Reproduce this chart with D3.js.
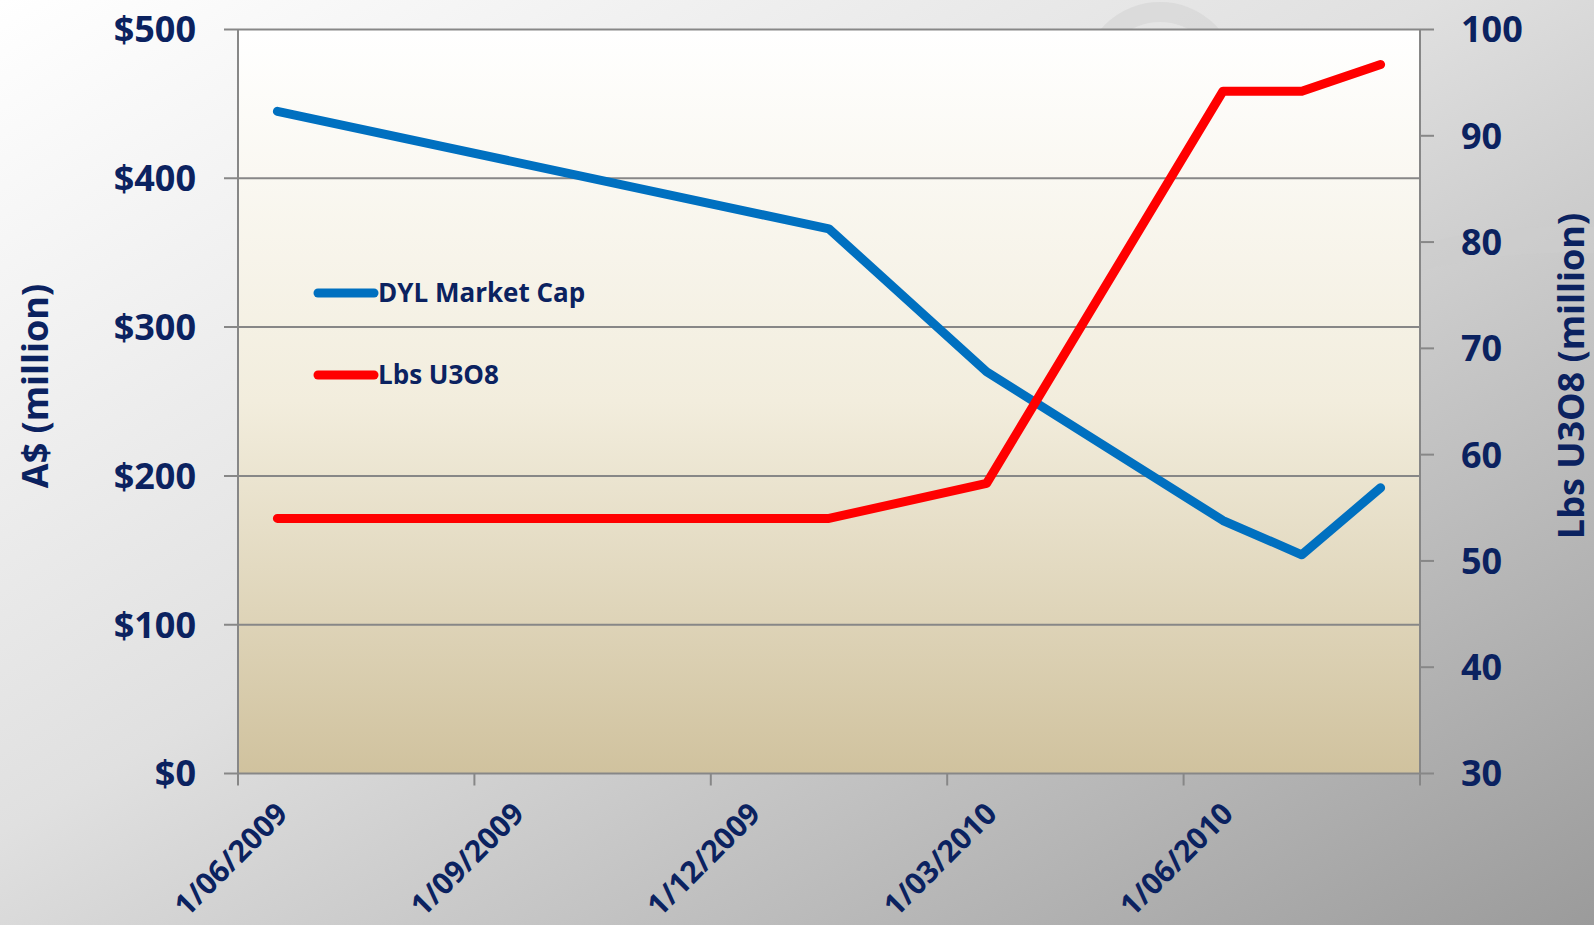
<!DOCTYPE html>
<html>
<head>
<meta charset="utf-8">
<script src="https://cdn.jsdelivr.net/npm/d3@7"></script>
<style>
  html, body { margin: 0; padding: 0; overflow: hidden; }
  svg { display: block; }
  text { font-family: "Open Sans", "Noto Sans", sans-serif; font-weight: 700; fill: #0b2260; }
</style>
</head>
<body>
<svg id="chart" width="1594" height="925"></svg>
<script>
    var dates = ["1/06/2009", "1/01/2010", "1/03/2010", "1/06/2010", "1/07/2010", "1/08/2010"];
    var marketCap = [445, 366, 270, 170, 147, 192];
    var lbsU3O8 = [54, 54, 57.3, 94.2, 94.2, 96.7];
    var tickDates = ["1/06/2009", "1/09/2009", "1/12/2009", "1/03/2010", "1/06/2010"];
    var leftTicks = [0, 100, 200, 300, 400, 500];
    var rightTicks = [30, 40, 50, 60, 70, 80, 90, 100];
    var seriesNames = ["DYL Market Cap", "Lbs U3O8"];
    var seriesColors = ["#0070c0", "#ff0000"];

    var svg = d3.select("#chart"),
      width = +svg.attr("width"),
      height = +svg.attr("height");

    var margin = {left: 238, right: 174, top: 29.5, bottom: 151.5};
    var plotW = width - margin.left - margin.right,
      plotH = height - margin.top - margin.bottom;

    var parse = d3.timeParse("%d/%m/%Y");
    var start = parse("1/06/2009");
    function monthIndex(s) { return d3.timeMonth.count(start, parse(s)); }

    var x = d3.scaleLinear().domain([0, 15]).range([margin.left, margin.left + plotW]);
    var yL = d3.scaleLinear().domain([0, 500]).range([margin.top + plotH, margin.top]);
    var yR = d3.scaleLinear().domain([30, 100]).range([margin.top + plotH, margin.top]);

    var defs = svg.append("defs");
    var bg = defs.append("linearGradient").attr("id", "bg")
      .attr("x1", 0).attr("y1", 0).attr("x2", 1).attr("y2", 1);
    bg.append("stop").attr("offset", "0%").attr("stop-color", "#ffffff");
    bg.append("stop").attr("offset", "45%").attr("stop-color", "#e0e0e0");
    bg.append("stop").attr("offset", "100%").attr("stop-color", "#9b9b9b");

    var plotBg = defs.append("linearGradient").attr("id", "plotbg")
      .attr("x1", 0).attr("y1", 0).attr("x2", 0).attr("y2", 1);
    plotBg.append("stop").attr("offset", "0%").attr("stop-color", "#ffffff");
    plotBg.append("stop").attr("offset", "50%").attr("stop-color", "#f2eddd");
    plotBg.append("stop").attr("offset", "100%").attr("stop-color", "#d0c29e");

    svg.append("rect").attr("width", width).attr("height", height).attr("fill", "url(#bg)");

    // faint watermark arcs
    var wm = svg.append("g").attr("fill", "none").attr("stroke", "#d4d4d4").attr("stroke-opacity", 0.6);
    wm.append("circle").attr("cx", 1160).attr("cy", 80).attr("r", 68).attr("stroke-width", 20);
    wm.append("path")
      .attr("d", "M1400,262 Q1500,236 1594,240")
      .attr("stroke-width", 26)
      .attr("stroke", "#cdcdcd");

    svg.append("rect")
      .attr("x", margin.left).attr("y", margin.top)
      .attr("width", plotW).attr("height", plotH)
      .attr("fill", "url(#plotbg)");

    // gridlines with left ticks
    svg.append("g").selectAll("line")
      .data(leftTicks)
      .enter().append("line")
        .attr("x1", margin.left - 14)
        .attr("x2", margin.left + plotW)
        .attr("y1", function(d) { return yL(d); })
        .attr("y2", function(d) { return yL(d); })
        .attr("stroke", "#878787")
        .attr("stroke-width", 2);

    svg.append("g").selectAll("text")
      .data(leftTicks)
      .enter().append("text")
        .attr("x", 196)
        .attr("y", function(d) { return yL(d); })
        .attr("dy", "0.36em")
        .attr("text-anchor", "end")
        .attr("font-size", 36)
        .text(function(d) { return "$" + d; });

    // right axis
    svg.append("g").selectAll("line")
      .data(rightTicks)
      .enter().append("line")
        .attr("x1", margin.left + plotW)
        .attr("x2", margin.left + plotW + 14)
        .attr("y1", function(d) { return yR(d); })
        .attr("y2", function(d) { return yR(d); })
        .attr("stroke", "#878787")
        .attr("stroke-width", 2);

    svg.append("g").selectAll("text")
      .data(rightTicks)
      .enter().append("text")
        .attr("x", 1461)
        .attr("y", function(d) { return yR(d); })
        .attr("dy", "0.36em")
        .attr("font-size", 36)
        .text(function(d) { return d; });

    // axis lines
    svg.append("line")
      .attr("x1", margin.left).attr("x2", margin.left)
      .attr("y1", margin.top).attr("y2", margin.top + plotH)
      .attr("stroke", "#878787").attr("stroke-width", 2);
    svg.append("line")
      .attr("x1", margin.left + plotW).attr("x2", margin.left + plotW)
      .attr("y1", margin.top).attr("y2", margin.top + plotH)
      .attr("stroke", "#878787").attr("stroke-width", 2);

    // x ticks
    svg.append("g").selectAll("line")
      .data([0, 3, 6, 9, 12, 15])
      .enter().append("line")
        .attr("x1", function(d) { return x(d); })
        .attr("x2", function(d) { return x(d); })
        .attr("y1", margin.top + plotH)
        .attr("y2", margin.top + plotH + 12)
        .attr("stroke", "#878787")
        .attr("stroke-width", 2);

    svg.append("g").selectAll("text")
      .data(tickDates)
      .enter().append("text")
        .attr("font-size", 30)
        .attr("text-anchor", "end")
        .attr("transform", function(d) {
          return "translate(" + (x(monthIndex(d) + 0.5) + 12) + "," + (margin.top + plotH + 42) + ") rotate(-45)";
        })
        .text(function(d) { return d; });

    // axis titles
    svg.append("text")
      .attr("transform", "translate(48,386) rotate(-90)")
      .attr("text-anchor", "middle")
      .attr("font-size", 36)
      .text("A$ (million)");

    svg.append("text")
      .attr("transform", "translate(1584,376) rotate(-90)")
      .attr("text-anchor", "middle")
      .attr("font-size", 36)
      .text("Lbs U3O8 (million)");

    // series
    var series = [marketCap, lbsU3O8];
    var scales = [yL, yR];
    series.forEach(function(values, i) {
      var line = d3.line()
        .x(function(d, j) { return x(monthIndex(dates[j]) + 0.5); })
        .y(function(d) { return scales[i](d); });
      svg.append("path")
        .datum(values)
        .attr("d", line)
        .attr("fill", "none")
        .attr("stroke", seriesColors[i])
        .attr("stroke-width", 9)
        .attr("stroke-linecap", "round")
        .attr("stroke-linejoin", "round");
    });

    // legend
    var legend = svg.append("g").selectAll("g")
      .data(seriesNames)
      .enter().append("g")
        .attr("transform", function(d, i) { return "translate(318," + (293 + i * 82) + ")"; });
    legend.append("line")
      .attr("x1", 0).attr("x2", 56)
      .attr("stroke", function(d, i) { return seriesColors[i]; })
      .attr("stroke-width", 9)
      .attr("stroke-linecap", "round");
    legend.append("text")
      .attr("x", 60)
      .attr("dy", "0.36em")
      .attr("font-size", 26)
      .text(function(d) { return d; });
</script>
</body>
</html>
